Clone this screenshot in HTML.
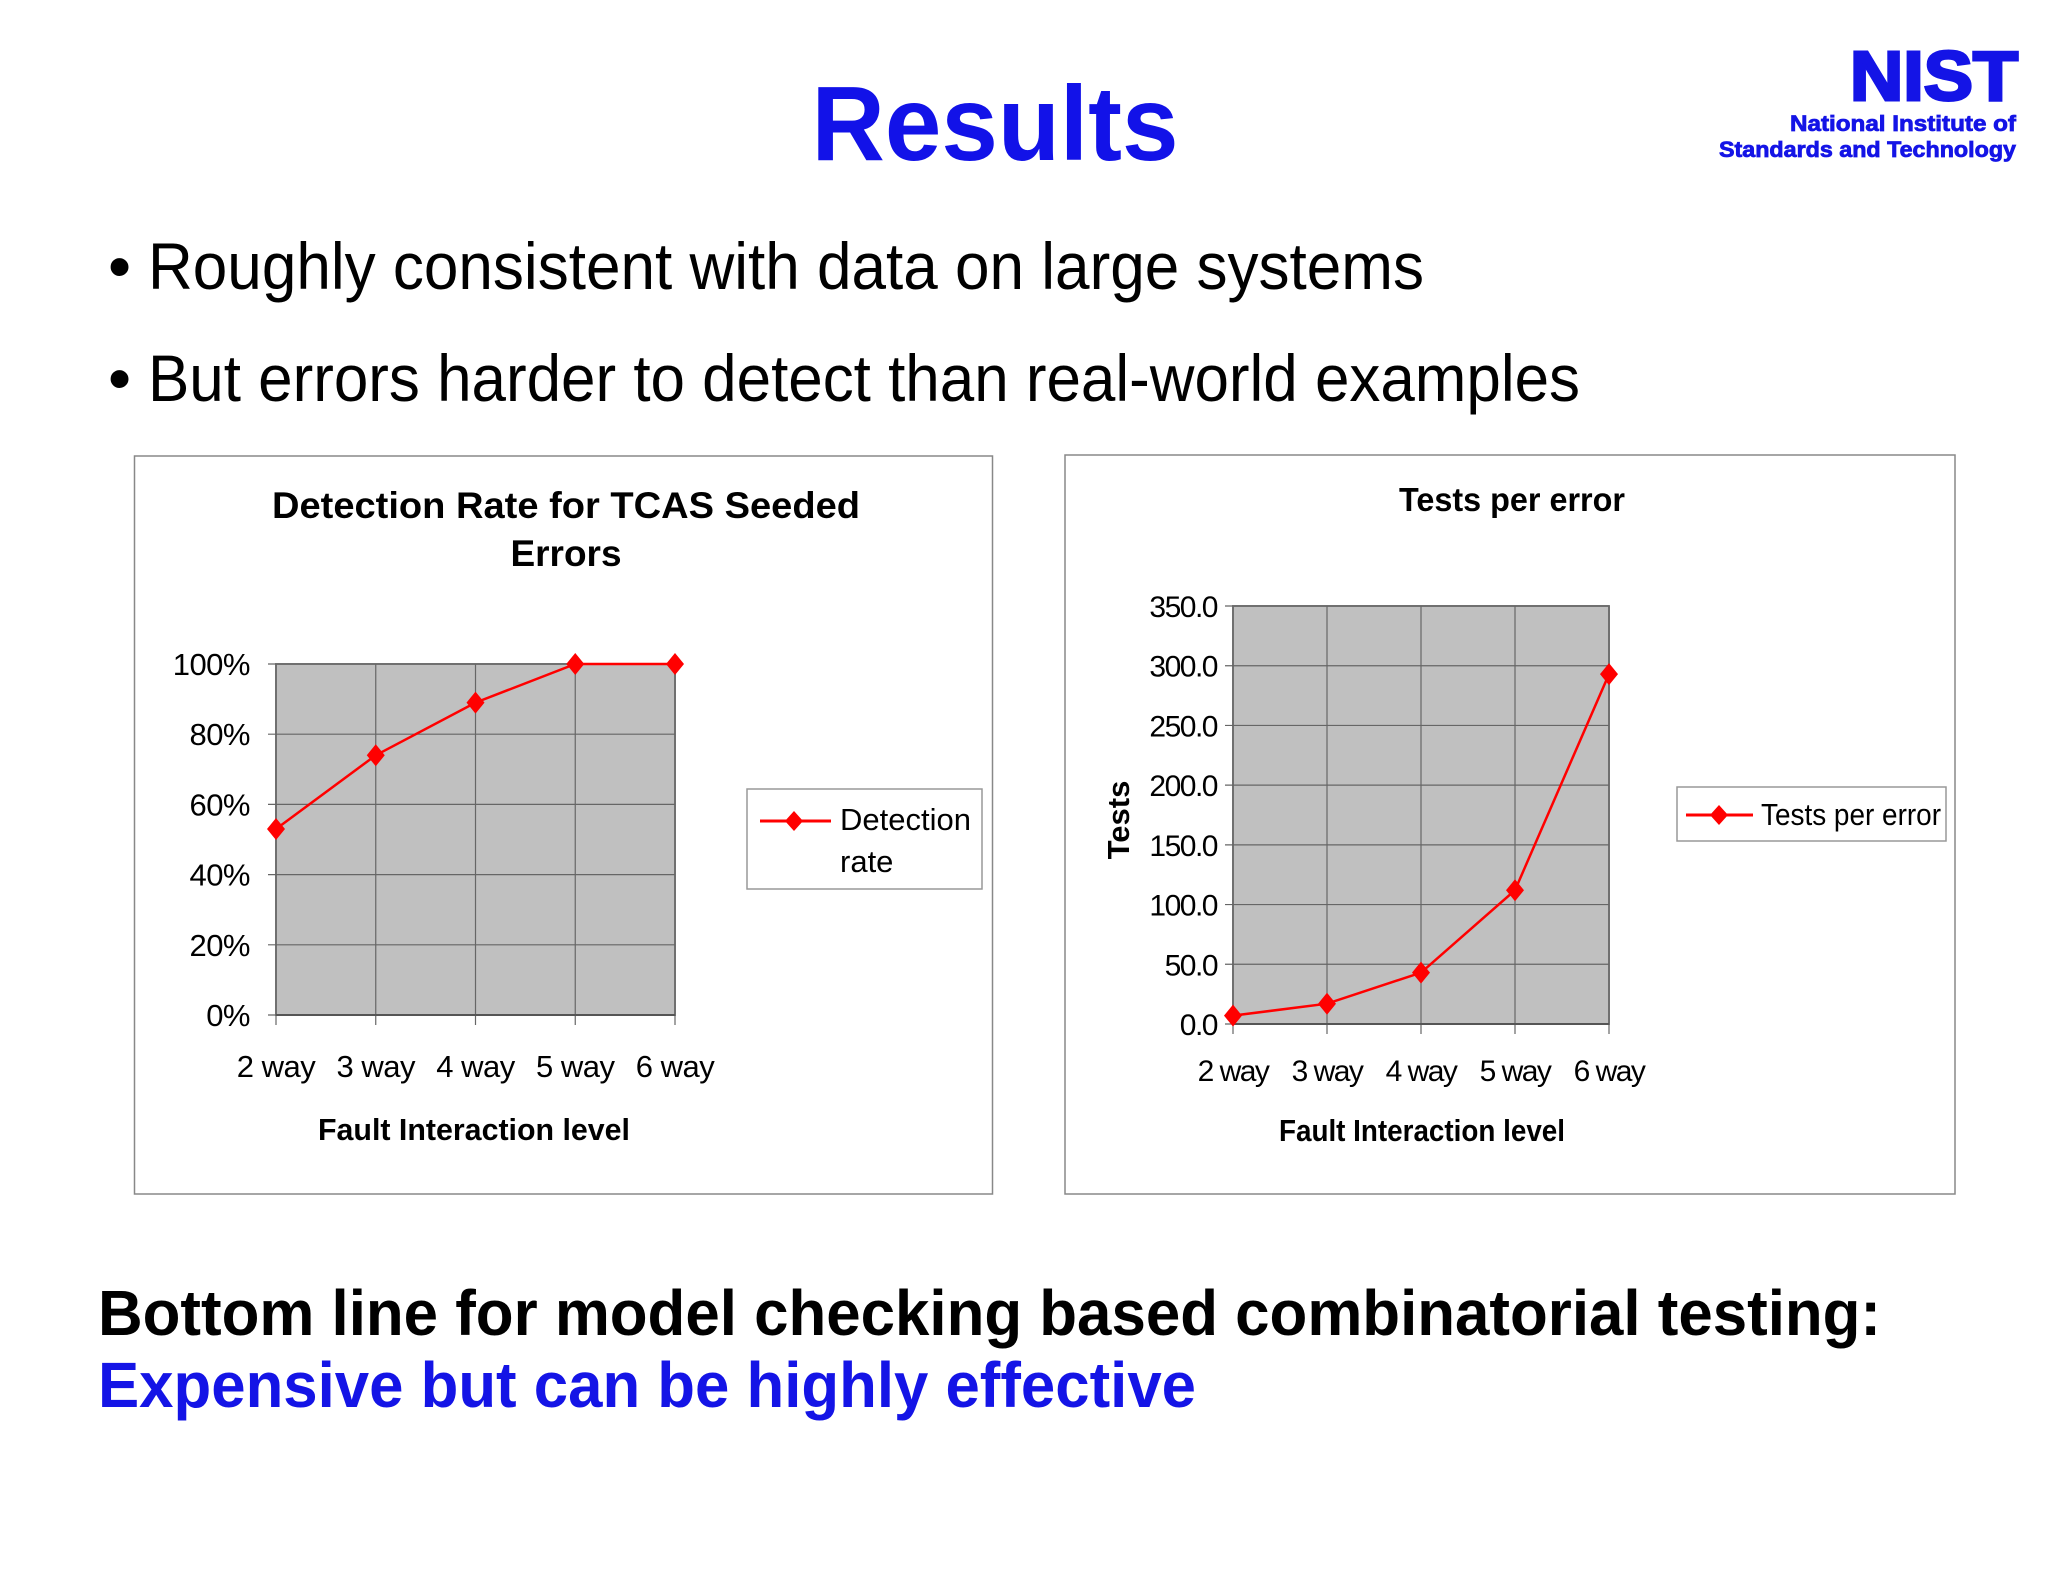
<!DOCTYPE html>
<html><head><meta charset="utf-8"><style>
html,body{margin:0;padding:0;background:#fff}
svg{display:block}
text{font-family:"Liberation Sans",Arial,sans-serif}
</style></head><body>
<svg width="2048" height="1582" viewBox="0 0 2048 1582" xmlns="http://www.w3.org/2000/svg" id="slide">
<text x="995" y="160" font-size="106" font-weight="bold" fill="#1212e8" text-anchor="middle" textLength="367" lengthAdjust="spacingAndGlyphs">Results</text>
<g>
<text x="2018" y="100" font-size="70" font-weight="bold" fill="#1414e6" stroke="#1414e6" stroke-width="3" text-anchor="end" textLength="168" lengthAdjust="spacingAndGlyphs">NIST</text>
<text x="2016" y="131" font-size="22" font-weight="bold" fill="#1414e6" stroke="#1414e6" stroke-width="0.8" text-anchor="end" textLength="226" lengthAdjust="spacingAndGlyphs">National Institute of</text>
<text x="2016" y="157" font-size="22" font-weight="bold" fill="#1414e6" stroke="#1414e6" stroke-width="0.8" text-anchor="end" textLength="297" lengthAdjust="spacingAndGlyphs">Standards and Technology</text>
</g>
<text x="108" y="289" font-size="66" fill="#000">•</text>
<text x="148" y="289" font-size="66" fill="#000" textLength="1276" lengthAdjust="spacingAndGlyphs">Roughly consistent with data on large systems</text>
<text x="108" y="401" font-size="66" fill="#000">•</text>
<text x="148" y="401" font-size="66" fill="#000" textLength="1432" lengthAdjust="spacingAndGlyphs">But errors harder to detect than real-world examples</text>
<text x="98" y="1335" font-size="64" font-weight="bold" fill="#000" textLength="1783" lengthAdjust="spacingAndGlyphs">Bottom line for model checking based combinatorial testing:</text>
<text x="98" y="1407" font-size="64" font-weight="bold" fill="#1414e6" textLength="1098" lengthAdjust="spacingAndGlyphs">Expensive but can be highly effective</text>

<g id="chart1">
<rect x="134.5" y="456" width="858" height="738" fill="#fff" stroke="#888" stroke-width="1.5"/>
<text x="566" y="518" font-size="37" font-weight="bold" text-anchor="middle" textLength="588" lengthAdjust="spacingAndGlyphs">Detection Rate for TCAS Seeded</text>
<text x="566" y="566" font-size="37" font-weight="bold" text-anchor="middle">Errors</text>
<rect x="747" y="789" width="235" height="100" fill="#fff" stroke="#999" stroke-width="1.5"/>
<line x1="760" y1="821" x2="831" y2="821" stroke="#f00" stroke-width="3"/>
<polygon points="794,811 803,821 794,831 785,821" fill="#f00"/>
<text x="840" y="830" font-size="31">Detection</text>
<text x="840" y="872" font-size="31">rate</text>
<text x="474" y="1140" font-size="31" font-weight="bold" text-anchor="middle" textLength="312" lengthAdjust="spacingAndGlyphs">Fault Interaction level</text>
</g>

<g id="chart2">
<rect x="1065" y="455" width="890" height="739" fill="#fff" stroke="#888" stroke-width="1.5"/>
<text x="1512" y="511" font-size="33" font-weight="bold" text-anchor="middle" textLength="226" lengthAdjust="spacingAndGlyphs">Tests per error</text>
<text transform="translate(1129,820) rotate(-90)" font-size="31" font-weight="bold" text-anchor="middle">Tests</text>
<rect x="1677" y="787" width="269" height="54" fill="#fff" stroke="#999" stroke-width="1.5"/>
<line x1="1686" y1="815" x2="1753" y2="815" stroke="#f00" stroke-width="3"/>
<polygon points="1719,805 1728,815 1719,825 1710,815" fill="#f00"/>
<text x="1761" y="825" font-size="31" textLength="180" lengthAdjust="spacingAndGlyphs">Tests per error</text>
<text x="1422" y="1141" font-size="31" font-weight="bold" text-anchor="middle" textLength="286" lengthAdjust="spacingAndGlyphs">Fault Interaction level</text>
</g>
</svg>
<script>
const categories1 = ["2 way","3 way","4 way","5 way","6 way"];
const detectionRate = [53, 74, 89, 100, 100];
const ticks1 = [0, 20, 40, 60, 80, 100];
const tickLabels1 = ["0%","20%","40%","60%","80%","100%"];

const categories2 = ["2 way","3 way","4 way","5 way","6 way"];
const testsPerError = [7, 17, 43, 112, 293];
const ticks2 = [0, 50, 100, 150, 200, 250, 300, 350];
const tickLabels2 = ["0.0","50.0","100.0","150.0","200.0","250.0","300.0","350.0"];

const NS = "http://www.w3.org/2000/svg";
function mk(tag, attrs, parent, txt) {
  const e = document.createElementNS(NS, tag);
  for (const k in attrs) e.setAttribute(k, attrs[k]);
  if (txt !== undefined) e.textContent = txt;
  parent.appendChild(e);
  return e;
}
function drawChart(g, cats, vals, ticks, labels, box, ymax, prefix) {
  const L = box.l, R = box.r, T = box.t, B = box.b;
  const n = cats.length;
  const xs = i => L + (R - L) * i / (n - 1);
  const ys = v => B - (B - T) * v / ymax;
  const plot = mk('rect', {x: L, y: T, width: R - L, height: B - T, fill: '#c0c0c0', stroke: '#808080', 'stroke-width': 2}, g);
  
  
  ticks.forEach((t, i) => {
    const y = ys(t);
    const gl = mk('line', {x1: L - 8, y1: y, x2: R, y2: y, stroke: '#666', 'stroke-width': 1.2}, g);
    
    
    const tl = mk('text', {x: box.lx, y: y + 11, 'font-size': box.fs, 'text-anchor': 'end', 'letter-spacing': box.ls}, g, labels[i]);
    
    
  });
  cats.forEach((c, i) => {
    const x = xs(i);
    const vl = mk('line', {x1: x, y1: T, x2: x, y2: B + 10, stroke: '#666', 'stroke-width': 1.2}, g);
    
    
    const xl = mk('text', {x: x, y: box.xly, 'font-size': box.fs, 'text-anchor': 'middle', 'letter-spacing': box.ls}, g, c);
    
    
  });
  mk('line', {x1: L, y1: B, x2: R, y2: B, stroke: '#555', 'stroke-width': 2}, g);
  const pts = vals.map((v, i) => xs(i) + ',' + ys(v)).join(' ');
  const line = mk('polyline', {points: pts, fill: 'none', stroke: '#f00', 'stroke-width': 2.5}, g);
  
  
  vals.forEach((v, i) => {
    const x = xs(i), y = ys(v);
    const m = mk('polygon', {points: `${x},${y-11} ${x+9},${y} ${x},${y+11} ${x-9},${y}`, fill: '#f00'}, g);
    
    
  });
}
drawChart(document.getElementById('chart1'), categories1, detectionRate, ticks1, tickLabels1,
  {l: 276, r: 675, t: 664, b: 1015, lx: 250, xly: 1077, fs: 31, ls: -0.5}, 100, 'chart1');
drawChart(document.getElementById('chart2'), categories2, testsPerError, ticks2, tickLabels2,
  {l: 1233, r: 1609, t: 606, b: 1024, lx: 1217, xly: 1081, fs: 30, ls: -1.5}, 350, 'chart2');
</script>
</body></html>
